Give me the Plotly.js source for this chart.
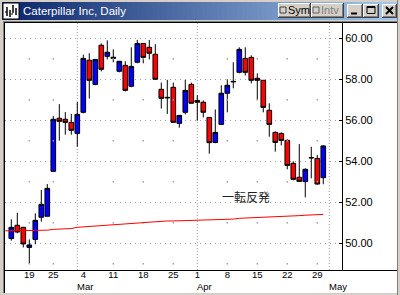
<!DOCTYPE html>
<html><head><meta charset="utf-8">
<script src="https://cdn.plot.ly/plotly-3.0.1.min.js"></script>
<style>html,body{margin:0;padding:0;background:#fff;overflow:hidden}#chart{width:400px;height:295px}</style>
</head><body><div id="chart"></div>
<script>
// ---- data ----
const dates = ['2002-02-12','2002-02-13','2002-02-14','2002-02-15','2002-02-19','2002-02-20','2002-02-21','2002-02-22','2002-02-25','2002-02-26','2002-02-27','2002-02-28','2002-03-01','2002-03-04','2002-03-05','2002-03-06','2002-03-07','2002-03-08','2002-03-11','2002-03-12','2002-03-13','2002-03-14','2002-03-15','2002-03-18','2002-03-19','2002-03-20','2002-03-21','2002-03-22','2002-03-25','2002-03-26','2002-03-27','2002-03-28','2002-04-01','2002-04-02','2002-04-03','2002-04-04','2002-04-05','2002-04-08','2002-04-09','2002-04-10','2002-04-11','2002-04-12','2002-04-15','2002-04-16','2002-04-17','2002-04-18','2002-04-19','2002-04-22','2002-04-23','2002-04-24','2002-04-25','2002-04-26','2002-04-29','2002-04-30'];
const candleDates = dates.slice(1);
const openP  = [50.23,50.88,50.78,49.80,50.19,51.27,51.32,53.51,56.10,56.05,55.90,55.36,56.39,58.93,57.75,59.66,59.12,59.02,58.39,58.68,57.66,58.83,59.75,59.56,59.22,57.51,57.12,57.61,55.85,56.39,57.75,56.97,56.88,56.14,54.92,55.80,57.32,57.90,58.34,59.02,59.07,58.05,57.95,56.49,55.41,55.36,55.02,53.90,53.22,53.01,54.18,54.14,53.20];
const highP  = [51.17,51.49,50.80,50.19,51.46,52.60,52.89,56.21,56.79,56.40,56.31,56.89,59.20,59.27,58.97,59.75,59.90,59.46,58.88,58.88,59.56,59.92,59.75,59.92,59.71,57.84,57.97,57.84,56.24,57.97,57.84,57.22,56.97,56.14,56.53,57.71,58.00,58.83,59.56,59.56,59.17,58.29,57.95,56.83,55.46,55.41,55.07,54.00,54.84,53.66,54.71,54.31,54.79];
const lowP   = [50.13,50.49,49.80,49.02,49.95,51.06,51.32,53.51,55.01,55.30,55.30,54.71,56.34,57.06,57.71,58.39,58.97,58.83,58.34,57.41,57.61,58.78,58.78,58.97,58.00,56.57,56.31,55.90,55.64,56.29,56.83,55.98,56.14,54.37,54.88,55.80,56.39,57.56,58.29,58.19,57.80,57.01,56.39,55.20,54.47,54.78,53.61,53.07,53.02,52.24,53.17,52.86,52.88];
const closeP = [50.78,50.55,49.97,49.92,51.12,51.90,52.68,56.05,55.95,55.90,55.51,56.29,59.02,57.95,58.97,58.49,59.32,59.07,58.88,57.46,58.63,59.75,59.07,59.27,58.00,57.07,57.10,55.90,56.24,57.46,56.83,56.88,56.39,54.91,55.41,57.32,57.71,57.88,59.46,58.34,57.95,57.95,56.63,55.80,54.92,55.02,53.80,53.12,53.02,53.61,54.17,52.89,54.75];
const maValues = [50.61,50.61,50.61,50.62,50.62,50.63,50.63,50.64,50.68,50.69,50.70,50.72,50.78,50.80,50.84,50.86,50.89,50.90,50.93,50.94,50.95,50.97,50.99,51.00,51.02,51.04,51.07,51.09,51.09,51.10,51.10,51.11,51.12,51.12,51.13,51.14,51.15,51.17,51.18,51.22,51.23,51.24,51.27,51.28,51.29,51.30,51.32,51.33,51.34,51.35,51.37,51.38,51.39,51.41];
const xTickDates = ['2002-02-19','2002-02-25','2002-03-04','2002-03-11','2002-03-18','2002-03-25','2002-04-01','2002-04-08','2002-04-15','2002-04-22','2002-04-29'];
const xTickText  = ['19','25','4','11','18','25','1','8','15','22','29'];
const monthNames = ['Mar','Apr','May'];
const monthStartDates = ['2002-03-01','2002-04-01','2002-05-01'];
const dotDates = ['2002-02-19','2002-02-25','2002-03-11','2002-03-18','2002-03-25','2002-04-08','2002-04-15','2002-04-22','2002-04-29'];
const yTickVals = [50,52,54,56,58,60];
const oddLevels = [49,51,53,55,57,59];
const chartTitle = 'Caterpillar Inc, Daily';
const noteText = '一転反発';

// ---- geometry helpers ----
const W=400,H=295,M={l:5,r:58,t:23,b:25};
const PW=W-M.l-M.r, PH=H-M.t-M.b;
const fx=x=>(x-M.l)/PW, fy=y=>(H-M.b-y)/PH;
const catIndex=d=>{const i=dates.indexOf(d);return i<0?dates.length:i;};
const FONT='Liberation Sans, Arial, sans-serif';

const shapes=[];
function rect(x0,y0,x1,y1,fill,line,lw){shapes.push({type:'rect',xref:'paper',yref:'paper',x0:fx(x0),x1:fx(x1),y0:fy(y1),y1:fy(y0),fillcolor:fill,line:{color:line||'rgba(0,0,0,0)',width:lw||0},layer:'above'});}
function seg(x0,y0,x1,y1,color,w){shapes.push({type:'line',xref:'paper',yref:'paper',x0:fx(x0),x1:fx(x1),y0:fy(y0),y1:fy(y1),line:{color:color,width:w||1},layer:'above'});}

// window frame
rect(0,0,400,22,'#d4d0c8');
rect(0,0,4,295,'#d4d0c8');
rect(397,0,400,295,'#d4d0c8');
rect(0,293,400,295,'#d4d0c8');
seg(3.5,21,3.5,293,'#808080');
seg(3,21.5,397,21.5,'#808080');
seg(4.5,22,4.5,293,'#000');
seg(4,22.5,397,22.5,'#000');
seg(397.5,0,397.5,295,'#808080');
// title bar gradient
const c0=[10,36,106], c1=[166,202,240];
for(let x=2;x<397;x+=5){
  const t=(x-2)/395;
  const c=c0.map((v,k)=>Math.round(v+(c1[k]-v)*t));
  rect(x,2,Math.min(x+6,397),20,'rgb('+c.join(',')+')');
}
// icon
rect(3,3,19,19,'#ffffff','#000',1);
seg(7,7,7,16,'#000',1.5); seg(10,10,10,17,'#000',1.5); seg(13,5,13,13,'#000',1.5); seg(16,8,16,15,'#000',1.5);
seg(5,12,7,12,'#000',1); seg(11,14,13,14,'#000',1);
// buttons
function button(x0,y0,x1,y1){
  rect(x0,y0,x1,y1,'#d4d0c8');
  seg(x0,y0+0.5,x1,y0+0.5,'#ffffff'); seg(x0+0.5,y0,x0+0.5,y1,'#ffffff');
  seg(x0,y1-0.5,x1,y1-0.5,'#404040'); seg(x1-0.5,y0,x1-0.5,y1,'#404040');
  seg(x0+1,y1-1.5,x1-1,y1-1.5,'#808080'); seg(x1-1.5,y0+1,x1-1.5,y1-1,'#808080');
}
button(278,3,311,18); button(311,3,344,18);
button(347,4,363,18); button(363,4,379,18); button(382,4,397,18);
rect(280,7,286,13,'#d4d0c8','#404040',1);
rect(313,7,319,13,'#d4d0c8','#606060',1);
rect(351,12.5,357,14.5,'#000');
rect(367,6.5,375,13.5,'rgba(0,0,0,0)','#000',1); seg(367,7,375,7,'#000',2);
seg(386,7,393,14,'#000',2); seg(393,7,386,14,'#000',2);
// x axis line across the full width
seg(4,270.5,397,270.5,'#000');
// monthly dotted vertical grid
monthStartDates.forEach(d=>shapes.push({type:'line',xref:'x',yref:'paper',x0:catIndex(d),x1:catIndex(d),y0:0,y1:1,line:{color:'#a0a0a0',width:1,dash:'1px,2px'},layer:'below'}));

// ---- traces ----
const dx=[],dy=[];
dotDates.forEach(d=>oddLevels.forEach(v=>{dx.push(d);dy.push(v);}));
const traces=[
  {type:'scatter',mode:'markers',x:dx,y:dy,marker:{symbol:'square',size:1.5,color:'#a0a0a0'},hoverinfo:'skip'},
  {type:'scatter',mode:'lines',x:dates,y:maValues,line:{color:'#ff0000',width:1},hoverinfo:'skip'},
  {type:'candlestick',x:candleDates,open:openP,high:highP,low:lowP,close:closeP,
   increasing:{line:{color:'#000',width:1},fillcolor:'#0000ff'},
   decreasing:{line:{color:'#000',width:1},fillcolor:'#ff0000'},hoverinfo:'skip'}
];

const annotations=[
  {xref:'paper',yref:'paper',x:fx(21),y:fy(11),xanchor:'left',yanchor:'middle',text:chartTitle,showarrow:false,font:{family:FONT,size:11.5,color:'#ffffff'}},
  {xref:'paper',yref:'paper',x:fx(286),y:fy(10.5),xanchor:'left',yanchor:'middle',text:'Sym',showarrow:false,font:{family:FONT,size:11,color:'#000'}},
  {xref:'paper',yref:'paper',x:fx(319),y:fy(10.5),xanchor:'left',yanchor:'middle',text:'Intv',showarrow:false,font:{family:FONT,size:11,color:'#808080'}},
  {xref:'x',yref:'y',x:40.2,y:52.28,xanchor:'center',yanchor:'middle',text:noteText,showarrow:false,font:{family:'Noto Sans CJK JP, sans-serif',size:12,color:'#222'}}
];
monthNames.forEach((m,k)=>annotations.push({xref:'x',yref:'paper',x:catIndex(monthStartDates[k]),y:fy(286.5),xanchor:'left',yanchor:'middle',xshift:-1,text:m,showarrow:false,borderpad:0,font:{family:FONT,size:9.5,color:'#000'}}));

const layout={
  width:W,height:H,margin:{l:M.l,r:M.r,t:M.t,b:M.b,pad:0},
  paper_bgcolor:'#ffffff',plot_bgcolor:'#ffffff',showlegend:false,dragmode:false,
  boxgap:0.12,boxgroupgap:0.12,
  xaxis:{type:'category',categoryorder:'array',categoryarray:dates,range:[-0.05,56.12],
    tickmode:'array',tickvals:xTickDates,ticktext:xTickText,tickangle:0,ticks:'',ticklabelstandoff:-3,
    showgrid:false,zeroline:false,showline:false,rangeslider:{visible:false},
    tickfont:{family:FONT,size:9.5,color:'#000'},fixedrange:true},
  yaxis:{side:'right',range:[48.698,60.746],tickmode:'array',tickvals:yTickVals,tickformat:'.2f',
    showgrid:true,gridcolor:'#a0a0a0',griddash:'1px,4px',gridwidth:1,zeroline:false,
    showline:true,linecolor:'#000',linewidth:1,ticks:'inside',ticklen:3,tickcolor:'#000',
    tickfont:{family:FONT,size:11,color:'#000'},fixedrange:true},
  shapes:shapes,annotations:annotations
};
Plotly.newPlot('chart',traces,layout,{staticPlot:true,displayModeBar:false});
</script></body></html>
